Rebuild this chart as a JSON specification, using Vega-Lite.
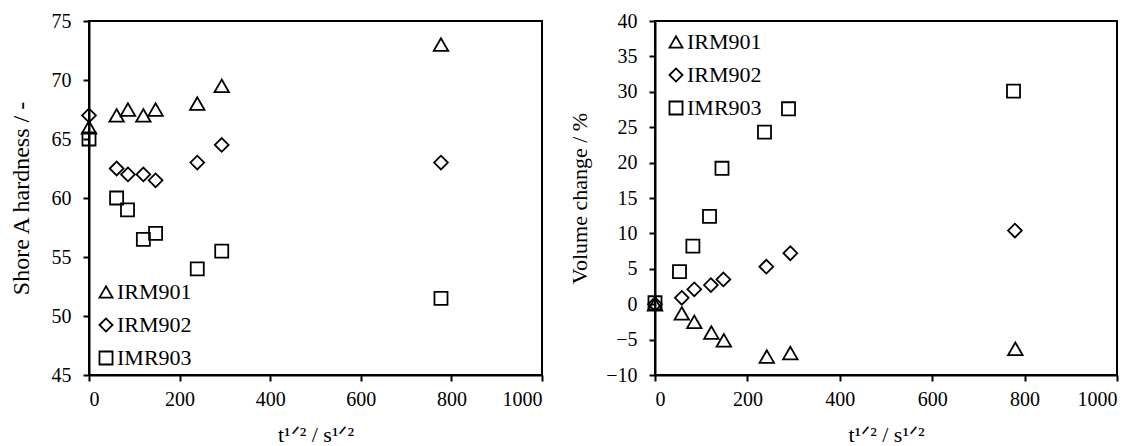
{
  "$schema": "https://vega.github.io/schema/vega-lite/v6.json",
  "background": "white",
  "padding": {"left": 8, "top": 10, "right": 5, "bottom": 0},
  "datasets": {
    "hardness": [
      {"series": "IRM901", "t": 0, "value": 66.0},
      {"series": "IRM901", "t": 61, "value": 67.0},
      {"series": "IRM901", "t": 86, "value": 67.5},
      {"series": "IRM901", "t": 120, "value": 67.0},
      {"series": "IRM901", "t": 147, "value": 67.5},
      {"series": "IRM901", "t": 239, "value": 68.0},
      {"series": "IRM901", "t": 293, "value": 69.5},
      {"series": "IRM901", "t": 777, "value": 73.0},
      {"series": "IRM902", "t": 0, "value": 67.0},
      {"series": "IRM902", "t": 61, "value": 62.5},
      {"series": "IRM902", "t": 86, "value": 62.0},
      {"series": "IRM902", "t": 120, "value": 62.0},
      {"series": "IRM902", "t": 147, "value": 61.5},
      {"series": "IRM902", "t": 239, "value": 63.0},
      {"series": "IRM902", "t": 293, "value": 64.5},
      {"series": "IRM902", "t": 777, "value": 63.0},
      {"series": "IMR903", "t": 0, "value": 65.0},
      {"series": "IMR903", "t": 61, "value": 60.0},
      {"series": "IMR903", "t": 85, "value": 59.0},
      {"series": "IMR903", "t": 120, "value": 56.5},
      {"series": "IMR903", "t": 147, "value": 57.0},
      {"series": "IMR903", "t": 239, "value": 54.0},
      {"series": "IMR903", "t": 293, "value": 55.5},
      {"series": "IMR903", "t": 777, "value": 51.5}
    ],
    "volume": [
      {"series": "IRM901", "t": 0, "value": 0.0},
      {"series": "IRM901", "t": 58, "value": -1.3},
      {"series": "IRM901", "t": 85, "value": -2.5},
      {"series": "IRM901", "t": 122, "value": -4.0},
      {"series": "IRM901", "t": 149, "value": -5.1},
      {"series": "IRM901", "t": 242, "value": -7.4},
      {"series": "IRM901", "t": 293, "value": -6.9},
      {"series": "IRM901", "t": 780, "value": -6.3},
      {"series": "IRM902", "t": 0, "value": 0.0},
      {"series": "IRM902", "t": 58, "value": 0.9},
      {"series": "IRM902", "t": 85, "value": 2.1},
      {"series": "IRM902", "t": 121, "value": 2.7},
      {"series": "IRM902", "t": 148, "value": 3.5},
      {"series": "IRM902", "t": 241, "value": 5.3},
      {"series": "IRM902", "t": 293, "value": 7.2},
      {"series": "IRM902", "t": 779, "value": 10.4},
      {"series": "IMR903", "t": 0, "value": 0.2},
      {"series": "IMR903", "t": 53, "value": 4.6},
      {"series": "IMR903", "t": 82, "value": 8.2},
      {"series": "IMR903", "t": 118, "value": 12.4},
      {"series": "IMR903", "t": 145, "value": 19.2},
      {"series": "IMR903", "t": 237, "value": 24.3},
      {"series": "IMR903", "t": 289, "value": 27.6},
      {"series": "IMR903", "t": 776, "value": 30.1}
    ]
  },
  "config": {
    "font": "Liberation Serif",
    "view": {"stroke": "black", "strokeWidth": 2},
    "axis": {
      "grid": false,
      "domainColor": "black",
      "domainWidth": 2,
      "tickColor": "black",
      "tickWidth": 2,
      "tickSize": 6,
      "labelFont": "Liberation Serif",
      "labelFontSize": 20,
      "labelColor": "black",
      "titleFont": "Liberation Serif",
      "titleFontWeight": "normal",
      "titleColor": "black",
      "format": "d"
    },
    "axisX": {"labelPadding": 8},
    "axisY": {"labelPadding": 12},
    "legend": {
      "title": null,
      "labelFont": "Liberation Serif",
      "labelFontSize": 22,
      "labelColor": "black",
      "labelOffset": 0,
      "symbolStrokeColor": "black",
      "symbolFillColor": "transparent",
      "symbolStrokeWidth": 1.8,
      "symbolSize": 170,
      "rowPadding": 11,
      "padding": 0
    }
  },
  "spacing": 23,
  "hconcat": [
    {
      "width": 453,
      "height": 354,
      "data": {"name": "hardness"},
      "mark": {"type": "point", "filled": false, "opacity": 1, "color": "black", "strokeWidth": 1.8},
      "encoding": {
        "x": {
          "field": "t", "type": "quantitative",
          "scale": {"domain": [0, 1000], "nice": false},
          "axis": {"values": [0, 200, 400, 600, 800, 1000], "title": "t¹ᐟ² / s¹ᐟ²", "titleFontSize": 22, "titlePadding": 15}
        },
        "y": {
          "field": "value", "type": "quantitative",
          "scale": {"domain": [45, 75], "nice": false, "zero": false},
          "axis": {"values": [45, 50, 55, 60, 65, 70, 75], "title": "Shore A hardness / -", "titleFontSize": 24, "titlePadding": 18}
        },
        "shape": {
          "field": "series", "type": "nominal",
          "scale": {"domain": ["IRM901", "IRM902", "IMR903"], "range": ["triangle-up", "diamond", "square"]},
          "legend": {"orient": "bottom-left", "offset": 6}
        },
        "size": {
          "field": "series", "type": "nominal",
          "scale": {"domain": ["IRM901", "IRM902", "IMR903"], "range": [210, 170, 216]},
          "legend": null
        }
      }
    },
    {
      "width": 462,
      "height": 354,
      "data": {"name": "volume"},
      "mark": {"type": "point", "filled": false, "opacity": 1, "color": "black", "strokeWidth": 1.8},
      "encoding": {
        "x": {
          "field": "t", "type": "quantitative",
          "scale": {"domain": [0, 1000], "nice": false},
          "axis": {"values": [0, 200, 400, 600, 800, 1000], "title": "t¹ᐟ² / s¹ᐟ²", "titleFontSize": 22, "titlePadding": 15}
        },
        "y": {
          "field": "value", "type": "quantitative",
          "scale": {"domain": [-10, 40], "nice": false, "zero": false},
          "axis": {"values": [-10, -5, 0, 5, 10, 15, 20, 25, 30, 35, 40], "title": "Volume change / %", "titleFontSize": 22, "titlePadding": 14}
        },
        "shape": {
          "field": "series", "type": "nominal",
          "scale": {"domain": ["IRM901", "IRM902", "IMR903"], "range": ["triangle-up", "diamond", "square"]},
          "legend": {"orient": "top-left", "offset": 10}
        },
        "size": {
          "field": "series", "type": "nominal",
          "scale": {"domain": ["IRM901", "IRM902", "IMR903"], "range": [120, 110, 128]},
          "legend": null
        }
      }
    }
  ]
}
